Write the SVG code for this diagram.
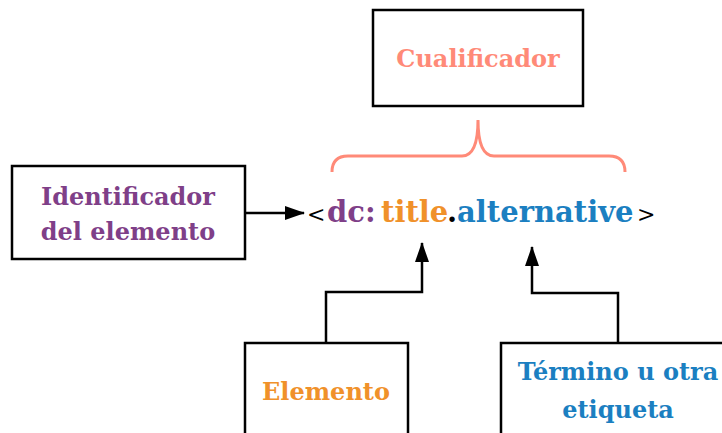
<svg xmlns="http://www.w3.org/2000/svg" width="722" height="433" viewBox="0 0 722 433">
<defs>
<style>
.box{fill:#fff;stroke:#000;stroke-width:2.5}
.lbl{font-family:'DejaVu Serif','Liberation Serif',serif;font-weight:bold;font-size:24px;text-anchor:middle}
.con{fill:none;stroke:#000;stroke-width:2.5}
.main{font-family:'DejaVu Serif','Liberation Serif',serif;font-weight:bold;font-size:29px}
.br{font-weight:normal;font-size:22px}
</style>
<marker id="ah" markerWidth="20" markerHeight="14" refX="19" refY="7" orient="auto" markerUnits="userSpaceOnUse" viewBox="0 0 20 14">
<path d="M0,0 L20,7 L0,14 Z" fill="#000"/>
</marker>
</defs>
<rect width="722" height="433" fill="#fff"/>
<g id="cualificador">
<rect class="box" x="373" y="10" width="210" height="96"/>
<text class="lbl" x="478" y="67" fill="#ff8a78">Cualificador</text>
</g>
<g id="identificador">
<rect class="box" x="12" y="166" width="233" height="93"/>
<text class="lbl" x="128" y="205" fill="#7f3f88">Identificador</text>
<text class="lbl" x="128" y="240" fill="#7f3f88">del elemento</text>
</g>
<g id="elemento">
<rect class="box" x="245" y="343" width="163" height="100"/>
<text class="lbl" x="326" y="400" fill="#f0912a">Elemento</text>
</g>
<g id="termino">
<rect class="box" x="501" y="343" width="240" height="100"/>
<text class="lbl" x="618" y="380" fill="#1b7fc1">Término u otra</text>
<text class="lbl" x="618" y="418" fill="#1b7fc1">etiqueta</text>
</g>
<g id="etiqueta">
<text class="main" y="222"><tspan class="br" x="307" fill="#000">&lt;</tspan><tspan x="327" fill="#7f3f88">dc:</tspan><tspan x="381" fill="#f0912a">title</tspan><tspan x="447" fill="#000">.</tspan><tspan x="457" fill="#1b7fc1">alternative</tspan><tspan class="br" x="637" fill="#000">&gt;</tspan></text>
</g>
<g id="connectors">
<path d="M332,172 Q332,156 348,156 L462,156 Q478,156 478,120 Q478,156 494,156 L609,156 Q625,156 625,172" fill="none" stroke="#ff8a78" stroke-width="3"/>
<path class="con" d="M245,213 L304,213" marker-end="url(#ah)"/>
<path class="con" d="M326,343 L326,292 L422,292 L422,243" marker-end="url(#ah)"/>
<path class="con" d="M618,343 L618,293 L532,293 L532,247" marker-end="url(#ah)"/>
</g>
</svg>
